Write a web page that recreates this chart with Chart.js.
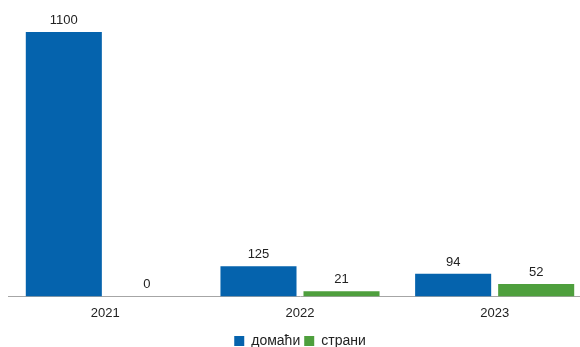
<!DOCTYPE html>
<html>
<head>
<meta charset="utf-8">
<script src="https://cdn.jsdelivr.net/npm/chart.js@4.4.1/dist/chart.umd.min.js"></script>
<style>
  html, body { margin: 0; padding: 0; background: #ffffff; overflow: hidden; }
  #wrap { width: 592px; height: 347px; }
</style>
</head>
<body>
<div id="wrap"><canvas id="grafico"></canvas></div>
<script>
const godine = ['2021', '2022', '2023'];
const domaci = [1100, 125, 94];
const strani = [0, 21, 52];

// crta vrednosti iznad stubova
const etiketePlugin = {
  id: 'etikete',
  afterDatasetsDraw(chart) {
    const ctx = chart.ctx;
    ctx.save();
    ctx.font = '13px "Liberation Sans", Arial, sans-serif';
    ctx.fillStyle = '#222222';
    ctx.textAlign = 'center';
    ctx.textBaseline = 'bottom';
    chart.data.datasets.forEach((ds, i) => {
      chart.getDatasetMeta(i).data.forEach((bar, j) => {
        ctx.fillText(ds.data[j], bar.x, bar.y - 5);
      });
    });
    ctx.restore();
  }
};

const ctx = document.getElementById('grafico');
new Chart(ctx, {
  type: 'bar',
  data: {
    labels: godine,
    datasets: [
      {
        label: 'домаћи',
        data: domaci,
        backgroundColor: '#0563ad',
        categoryPercentage: 0.853,
        barPercentage: 0.916
      },
      {
        label: 'страни',
        data: strani,
        backgroundColor: '#4e9f3d',
        categoryPercentage: 0.853,
        barPercentage: 0.916
      }
    ]
  },
  options: {
    responsive: true,
    maintainAspectRatio: false,
    animation: false,
    layout: { padding: { top: 32, left: 8, right: 0, bottom: -11 } },
    plugins: {
      tooltip: { enabled: false },
      legend: {
        position: 'bottom',
        labels: {
          boxWidth: 10,
          boxHeight: 10,
          padding: 4,
          color: '#222222',
          font: { size: 14, family: '"Liberation Sans", Arial, sans-serif' }
        }
      }
    },
    scales: {
      x: {
        grid: { display: false, drawTicks: false },
        border: { display: true, color: '#a6a6a6', width: 1 },
        ticks: {
          color: '#222222',
          padding: 9,
          font: { size: 13, family: '"Liberation Sans", Arial, sans-serif' }
        }
      },
      y: {
        display: false,
        min: 0,
        max: 1100
      }
    }
  },
  plugins: [etiketePlugin]
});
</script>
</body>
</html>
